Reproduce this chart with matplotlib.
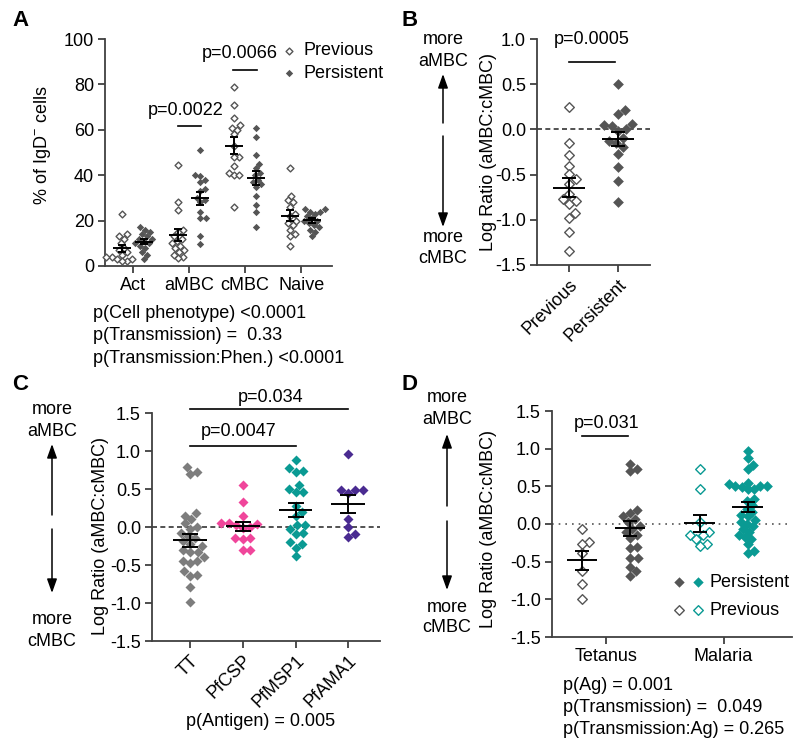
import numpy as np
import matplotlib
matplotlib.use('Agg')
import matplotlib.pyplot as plt
from matplotlib.legend_handler import HandlerTuple

plt.rcParams['font.family'] = ['Liberation Sans', 'DejaVu Sans']
plt.rcParams['mathtext.fontset'] = 'custom'
plt.rcParams['mathtext.rm'] = 'Liberation Sans'
plt.rcParams['axes.unicode_minus'] = False
plt.rcParams['font.size'] = 13

# ---- data ----
# A: % of IgD- cells per phenotype
phenotypes = ['Act', 'aMBC', 'cMBC', 'Naive']
a_previous = [
    [22.8, 14, 13, 12, 10, 8, 7, 6, 5, 4, 3, 2, 2, 3, 4],
    [44.5, 28, 24.5, 16, 15, 13, 12, 11, 10, 9, 8, 7, 6, 5, 4, 3.5],
    [79, 71, 65, 62, 61, 60, 58, 53, 48, 48, 44, 41, 40, 40, 26],
    [43, 31, 29, 28, 26, 23, 22, 20, 19, 18, 16, 14, 13, 9],
]
a_persistent = [
    [17, 16, 15, 14, 13, 12, 12, 11, 10, 10, 9, 8, 6, 5, 3],
    [51, 40, 39.5, 38, 37, 34, 33, 30, 29, 28, 24, 21, 21, 13, 9.5],
    [61, 57, 49, 45, 43, 41, 40, 38, 37, 36, 35, 31, 27, 24, 17],
    [25, 25, 24, 24, 23, 22, 21, 20, 20, 19, 18, 17, 16, 15, 13],
]
a_stats = ['p(Cell phenotype) <0.0001', 'p(Transmission) =  0.33',
           'p(Transmission:Phen.) <0.0001']

# B: log ratio aMBC:cMBC
b_groups = ['Previous', 'Persistent']
b_previous = [0.25, -0.145, -0.285, -0.40, -0.49, -0.55, -0.60, -0.71,
              -0.77, -0.79, -0.83, -0.92, -0.98, -1.14, -1.35]
b_persistent = [0.50, 0.21, 0.17, 0.06, 0.05, 0.04, 0.0, -0.02, -0.10,
                -0.13, -0.15, -0.20, -0.27, -0.42, -0.57, -0.80]

# C: log ratio by antigen
antigens = ['TT', 'PfCSP', 'PfMSP1', 'PfAMA1']
c_values = [
    [0.79, 0.73, 0.70, 0.18, 0.15, 0.10, 0.05, 0.0, -0.02, -0.08, -0.12,
     -0.15, -0.19, -0.22, -0.25, -0.30, -0.33, -0.33, -0.40, -0.45, -0.45,
     -0.48, -0.58, -0.63, -0.64, -0.79, -0.99],
    [0.55, 0.33, 0.15, 0.05, 0.05, 0.04, 0.03, 0.0, -0.01, -0.15, -0.15,
     -0.16, -0.30, -0.30],
    [0.88, 0.77, 0.74, 0.72, 0.55, 0.50, 0.46, 0.46, 0.27, 0.20, 0.14, 0.03,
     0.02, -0.02, -0.08, -0.09, -0.20, -0.22, -0.27, -0.38],
    [0.96, 0.49, 0.49, 0.49, 0.45, 0.11, 0.0, -0.09, -0.13],
]
c_colors = ['#7d7d7d', '#f0469b', '#0a9a93', '#4a2b91']

# D: log ratio by antigen type and transmission
d_groups = ['Tetanus', 'Malaria']
d_tet_previous = [-0.06, -0.24, -0.26, -0.38, -0.63, -0.79, -1.0]
d_tet_persistent = [0.80, 0.73, 0.70, 0.19, 0.14, 0.10, 0.06, 0.02, -0.03,
                    -0.06, -0.10, -0.14, -0.18, -0.30, -0.32, -0.45, -0.45,
                    -0.57, -0.63, -0.69]
d_mal_previous = [0.73, 0.46, 0.03, -0.10, -0.14, -0.15, -0.20, -0.27, -0.29]
d_mal_persistent = [0.97, 0.87, 0.78, 0.73, 0.55, 0.53, 0.50, 0.50, 0.50,
                    0.49, 0.47, 0.46, 0.33, 0.30, 0.25, 0.20, 0.16, 0.12,
                    0.10, 0.05, 0.03, 0.0, -0.03, -0.07, -0.10, -0.15, -0.17,
                    -0.20, -0.27, -0.36, -0.38]
d_stats = ['p(Ag) = 0.001', 'p(Transmission) =  0.049',
           'p(Transmission:Ag) = 0.265']

GREY = '#555555'
TEAL = '#0a9a93'
AXC = '#404040'

W, H = 800, 750
fig = plt.figure(figsize=(8, 7.5), dpi=100)


def fx(px):
    return px / W


def fy(py):
    return 1 - py / H


def style_axes(ax):
    for s in ['top', 'right']:
        ax.spines[s].set_visible(False)
    for s in ['left', 'bottom']:
        ax.spines[s].set_color(AXC)
        ax.spines[s].set_linewidth(1.3)
    ax.tick_params(direction='out', length=5, width=1.3, color=AXC,
                   labelsize=13, pad=3)


def swarm_x(ax, x0, vals, dist_px):
    # simple beeswarm: offsets in pixels so markers do not overlap too much
    vals = np.asarray(vals, float)
    pts = ax.transData.transform(np.column_stack([np.full(len(vals), x0), vals]))
    ys = pts[:, 1]
    xc = pts[0, 0]
    offs = np.zeros(len(vals))
    placed = []
    for i in np.argsort(ys):
        y = ys[i]
        cands = [0.0]
        for px, py in placed:
            dy = y - py
            if abs(dy) < dist_px:
                dx = np.sqrt(dist_px ** 2 - dy ** 2)
                cands += [px + dx, px - dx]
        cands.sort(key=abs)
        for c in cands:
            if all((c - px) ** 2 + (y - py) ** 2 >= dist_px ** 2 - 1e-6
                   for px, py in placed):
                offs[i] = c
                break
        placed.append((offs[i], y))
    back = ax.transData.inverted().transform(np.column_stack([xc + offs, ys]))
    return back[:, 0]


def dots(ax, x0, vals, color, filled, s, dist, edge=None):
    xs = swarm_x(ax, x0, vals, dist)
    if filled:
        ax.scatter(xs, vals, marker='D', s=s, color=color, linewidths=0,
                   clip_on=False, zorder=3)
    else:
        ax.scatter(xs, vals, marker='D', s=s, facecolor='white',
                   edgecolor=edge or color, linewidths=1.0, clip_on=False,
                   zorder=3)


def mean_sem(ax, x0, vals, hw, cap):
    v = np.asarray(vals, float)
    m = v.mean()
    sem = v.std(ddof=1) / np.sqrt(len(v))
    ax.hlines(m, x0 - hw, x0 + hw, color='black', lw=1.4, zorder=5)
    ax.errorbar(x0, m, yerr=sem, fmt='none', ecolor='black', elinewidth=1.4,
                capsize=cap, capthick=1.4, zorder=5)


def side_arrows(xc, t1, t2, up_head, up_tail, dn_tail, dn_head, b1, b2):
    fig.text(fx(xc), fy(t1), 'more', ha='center', va='center', fontsize=13)
    fig.text(fx(xc), fy(t2), 'aMBC', ha='center', va='center', fontsize=13)
    fig.text(fx(xc), fy(b1), 'more', ha='center', va='center', fontsize=13)
    fig.text(fx(xc), fy(b2), 'cMBC', ha='center', va='center', fontsize=13)
    ap = dict(arrowstyle='-|>,head_length=0.7,head_width=0.25', lw=1.1,
              color='black', shrinkA=0, shrinkB=0, mutation_scale=12)
    fig.add_artist(matplotlib.patches.FancyArrowPatch(
        (fx(xc), fy(up_tail)), (fx(xc), fy(up_head)),
        transform=fig.transFigure, **ap))
    fig.add_artist(matplotlib.patches.FancyArrowPatch(
        (fx(xc), fy(dn_tail)), (fx(xc), fy(dn_head)),
        transform=fig.transFigure, **ap))


# ---------------- Panel A ----------------
axA = fig.add_axes([fx(105), fy(266), 227 / W, 227 / H])
style_axes(axA)
axA.set_xlim(-0.5, 3.55)
axA.set_ylim(0, 100)
axA.set_yticks([0, 20, 40, 60, 80, 100])
axA.set_xticks(range(len(phenotypes)))
axA.set_xticklabels(phenotypes)
axA.set_ylabel('% of IgD$^{-}$ cells', fontsize=13)
axA.yaxis.set_label_coords(-0.23, 0.53)
for i in range(len(phenotypes)):
    dots(axA, i - 0.2, a_previous[i], GREY, False, 12, 5.5)
    dots(axA, i + 0.2, a_persistent[i], GREY, True, 14, 5.5)
    mean_sem(axA, i - 0.2, a_previous[i], 0.16, 3.2)
    mean_sem(axA, i + 0.2, a_persistent[i], 0.16, 3.2)
axA.plot([0.8, 1.21], [61.7, 61.7], color='black', lw=1.2)
axA.text(0.94, 68.7, 'p=0.0022', ha='center', va='center', fontsize=13)
axA.plot([1.79, 2.21], [86.3, 86.3], color='black', lw=1.2)
axA.text(1.9, 93.4, 'p=0.0066', ha='center', va='center', fontsize=13)
hp = axA.scatter([], [], marker='D', s=12, facecolor='white', edgecolor=GREY, linewidths=1)
hs = axA.scatter([], [], marker='D', s=14, color=GREY, linewidths=0)
axA.legend([hp, hs], ['Previous', 'Persistent'], loc='upper left',
           bbox_to_anchor=(0.78, 0.985), frameon=False, fontsize=13,
           handlelength=0.8, handletextpad=0.4, borderpad=0, borderaxespad=0,
           labelspacing=0.3)
for k, t in enumerate(a_stats):
    fig.text(fx(93), fy(313 + 22.5 * k), t, ha='left', va='center', fontsize=13)
fig.text(fx(12), fy(21), 'A', fontsize=16, fontweight='bold', va='center')

# ---------------- Panel B ----------------
axB = fig.add_axes([fx(537), fy(265), 113 / W, 226 / H])
style_axes(axB)
axB.set_xlim(-0.65, 1.65)
axB.set_ylim(-1.5, 1.0)
axB.set_yticks(np.arange(-1.5, 1.01, 0.5))
axB.yaxis.set_major_formatter(matplotlib.ticker.FormatStrFormatter('%.1f'))
axB.set_xticks(range(len(b_groups)))
axB.set_xticklabels(b_groups, rotation=45, ha='right', rotation_mode='anchor')
axB.set_ylabel('Log Ratio (aMBC:cMBC)', fontsize=13)
axB.yaxis.set_label_coords(-0.35, 0.5)
axB.axhline(0, color='#333333', lw=1.2, ls=(0, (3, 2)), zorder=1)
dots(axB, 0, b_previous, GREY, False, 24, 8)
dots(axB, 1, b_persistent, GREY, True, 30, 8)
mean_sem(axB, 0, b_previous, 0.33, 5)
mean_sem(axB, 1, b_persistent, 0.33, 5)
axB.plot([0, 0.94], [0.745, 0.745], color='black', lw=1.2, clip_on=False)
axB.text(0.47, 1.0, 'p=0.0005', ha='center', va='center', fontsize=13)
side_arrows(443, 39, 62, 74, 123, 136, 227, 237, 259)
fig.text(fx(402), fy(21), 'B', fontsize=16, fontweight='bold', va='center')

# ---------------- Panel C ----------------
axC = fig.add_axes([fx(152), fy(641), 228 / W, 228 / H])
style_axes(axC)
axC.set_xlim(-0.72, 3.6)
axC.set_ylim(-1.5, 1.5)
axC.set_yticks(np.arange(-1.5, 1.51, 0.5))
axC.yaxis.set_major_formatter(matplotlib.ticker.FormatStrFormatter('%.1f'))
axC.set_xticks(range(len(antigens)))
axC.set_xticklabels(antigens, rotation=45, ha='right', rotation_mode='anchor')
axC.set_ylabel('Log Ratio (aMBC:cMBC)', fontsize=13)
axC.yaxis.set_label_coords(-0.19, 0.46)
axC.axhline(0, color='#333333', lw=1.2, ls=(0, (3, 2)), zorder=1)
for i, vals in enumerate(c_values):
    dots(axC, i, vals, c_colors[i], True, 26, 7.5)
    mean_sem(axC, i, vals, 0.32, 6)
axC.plot([0, 3], [1.55, 1.55], color='black', lw=1.2, clip_on=False)
axC.text(1.52, 1.71, 'p=0.034', ha='center', va='center', fontsize=13)
axC.plot([0, 2], [1.066, 1.066], color='black', lw=1.2)
axC.text(0.93, 1.26, 'p=0.0047', ha='center', va='center', fontsize=13)
fig.text(fx(261), fy(722), 'p(Antigen) = 0.005', ha='center', va='center', fontsize=13)
side_arrows(52, 409, 431, 444, 515, 529, 593, 619, 641)
fig.text(fx(12), fy(385), 'C', fontsize=16, fontweight='bold', va='center')

# ---------------- Panel D ----------------
axD = fig.add_axes([fx(552), fy(637), 240 / W, 226 / H])
style_axes(axD)
axD.set_xlim(-0.625, 4.375)
axD.set_ylim(-1.5, 1.5)
axD.set_yticks(np.arange(-1.5, 1.51, 0.5))
axD.yaxis.set_major_formatter(matplotlib.ticker.FormatStrFormatter('%.1f'))
axD.set_xticks([0.5, 2.95])
axD.set_xticklabels(d_groups)
axD.set_ylabel('Log Ratio (aMBC:cMBC)', fontsize=13)
axD.yaxis.set_label_coords(-0.23, 0.48)
axD.axhline(0, color='#555555', lw=1.2, ls=(0, (1, 3)), zorder=1)
dots(axD, 0, d_tet_previous, GREY, False, 24, 7.5)
dots(axD, 1, d_tet_persistent, GREY, True, 28, 7.5)
dots(axD, 2.45, d_mal_previous, TEAL, False, 24, 7.5)
dots(axD, 3.45, d_mal_persistent, TEAL, True, 30, 6.5)
for x0, vals in [(0, d_tet_previous), (1, d_tet_persistent),
                 (2.45, d_mal_previous), (3.45, d_mal_persistent)]:
    mean_sem(axD, x0, vals, 0.32, 5)
axD.plot([0, 0.96], [1.17, 1.17], color='black', lw=1.2)
axD.text(0.52, 1.34, 'p=0.031', ha='center', va='center', fontsize=13)
h1 = axD.scatter([], [], marker='D', s=28, color=GREY, linewidths=0)
h2 = axD.scatter([], [], marker='D', s=28, color=TEAL, linewidths=0)
h3 = axD.scatter([], [], marker='D', s=24, facecolor='white', edgecolor=GREY, linewidths=1)
h4 = axD.scatter([], [], marker='D', s=24, facecolor='white', edgecolor=TEAL, linewidths=1)
axD.legend([(h1, h2), (h3, h4)], ['Persistent', 'Previous'], loc='upper left',
           bbox_to_anchor=(0.5, 0.28), frameon=False, fontsize=13,
           handler_map={tuple: HandlerTuple(ndivide=None, pad=0.3)},
           handlelength=1.8, handletextpad=0.3, borderpad=0, borderaxespad=0,
           labelspacing=0.6)
for k, t in enumerate(d_stats):
    fig.text(fx(563), fy(685 + 22.5 * k), t, ha='left', va='center', fontsize=13)
side_arrows(447, 398, 419, 434, 506, 521, 590, 607, 628)
fig.text(fx(402), fy(385), 'D', fontsize=16, fontweight='bold', va='center')

fig.savefig('out.png', dpi=100)
